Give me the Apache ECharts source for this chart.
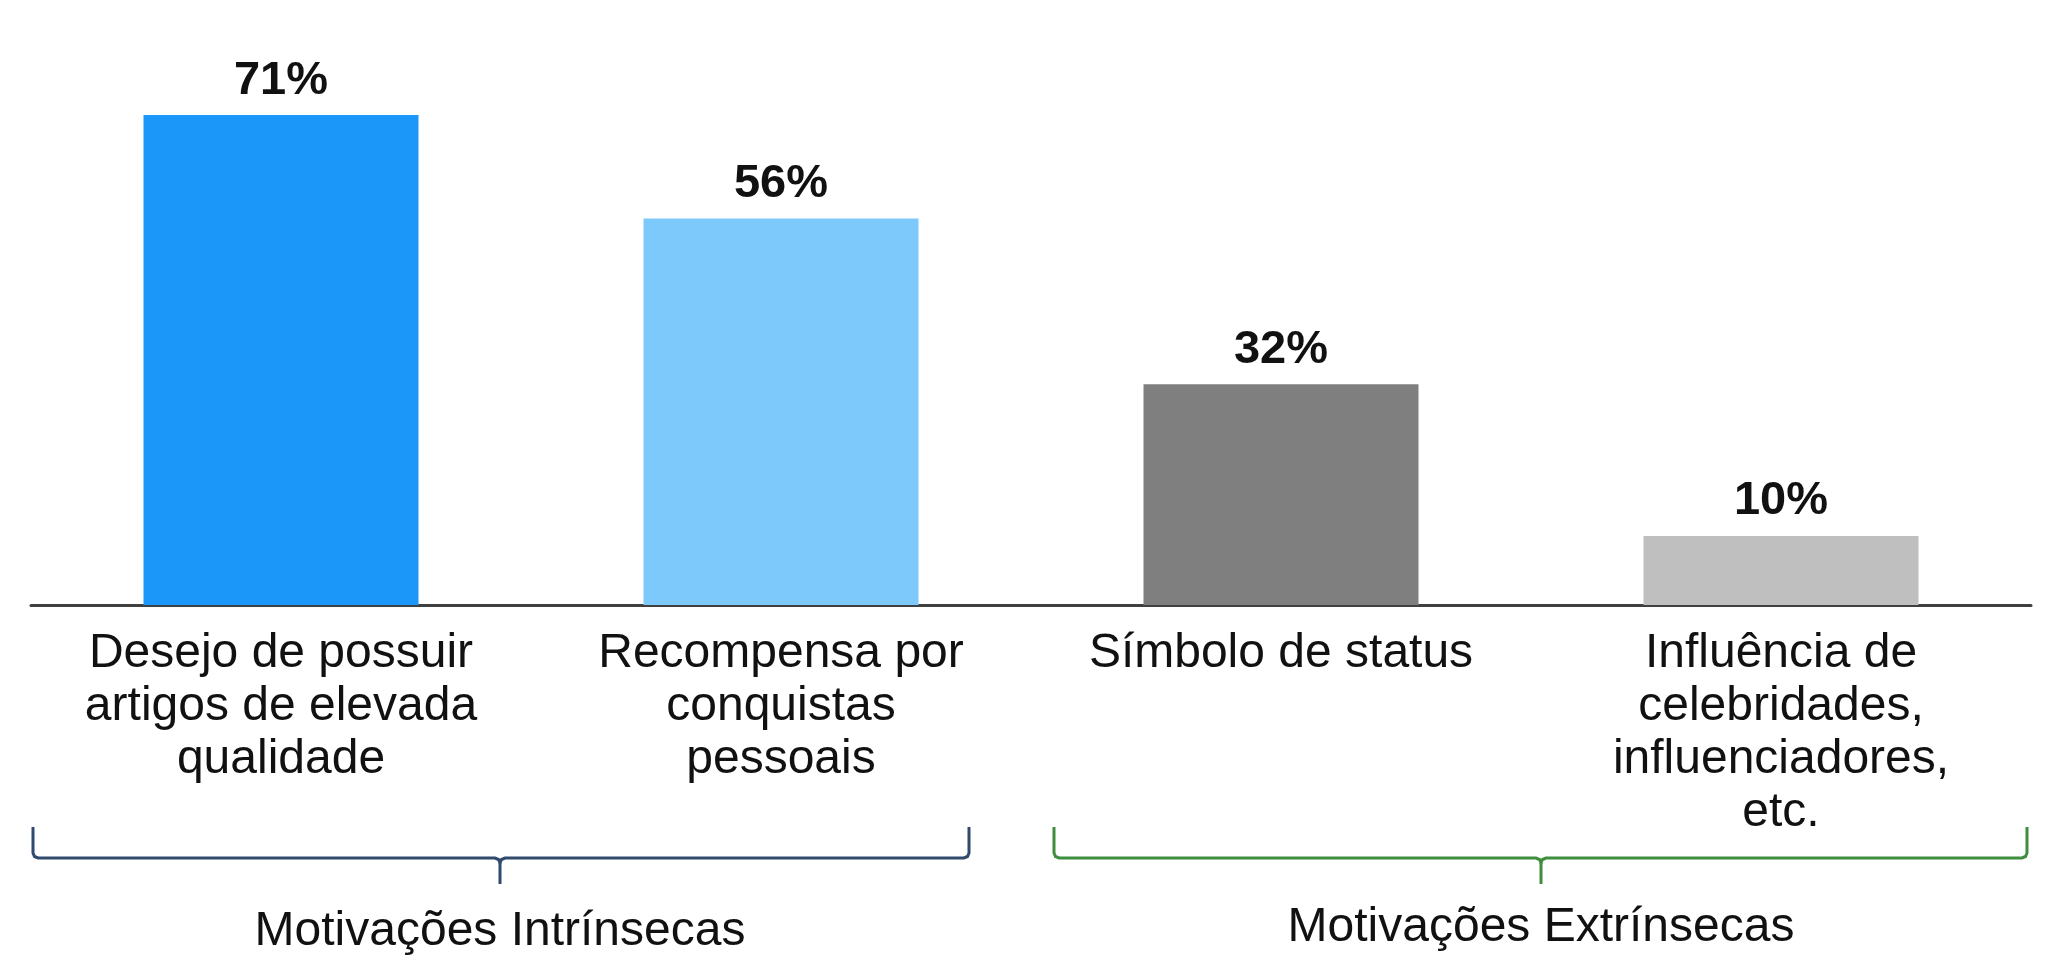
<!DOCTYPE html>
<html><head><meta charset="utf-8">
<script src="https://cdn.jsdelivr.net/npm/echarts@6/dist/echarts.min.js"></script>
<style>html,body{margin:0;padding:0;background:#fff}#c{width:2048px;height:962px}</style>
</head><body><div id="c"></div>
<script>
const categories = ['Desejo de possuir\nartigos de elevada\nqualidade', 'Recompensa por\nconquistas\npessoais', 'Símbolo de status', 'Influência de\ncelebridades,\ninfluenciadores,\netc.'];
const values = [71, 56, 32, 10];
const barColors = ['#1a97f8', '#7ec9fb', '#7f7f7f', '#bfbfbf'];
const groupNames = ['Motivações Intrínsecas', 'Motivações Extrínsecas'];
const groupSpans = [[-0.496, 0.438, 1.376], [1.546, 2.52, 3.492]];
const groupColors = ['#2f4a6c', '#3f8e3f'];

const FONT = '"Liberation Sans", Arial, sans-serif';
const chart = echarts.init(document.getElementById('c'));
chart.setOption({
  animation: false,
  grid: {left: 31, right: 17, top: 53, bottom: 357},
  xAxis: {
    type: 'category', data: categories,
    axisLine: {lineStyle: {color: '#404040', width: 3}},
    axisTick: {show: false},
    axisLabel: {interval: 0, color: '#111', fontFamily: FONT, fontSize: 48, lineHeight: 53, margin: 22}
  },
  yAxis: {type: 'value', min: 0, max: 80, show: false, splitLine: {show: false}},
  series: [{
    type: 'bar', barCategoryGap: '45%',
    data: values.map((v, i) => ({value: v, itemStyle: {color: barColors[i]}})),
    label: {show: true, position: 'top', formatter: '{c}%', color: '#111', fontFamily: FONT, fontWeight: 'bold', fontSize: 47, distance: 11}
  }]
});

function xAt(f) {
  const i0 = Math.floor(f);
  const a = chart.convertToPixel({xAxisIndex: 0}, i0);
  const b = chart.convertToPixel({xAxisIndex: 0}, i0 + 1);
  return a + (b - a) * (f - i0);
}
const yTop = 827, yLine = 858, yTip = 884, r = 5;
const graphics = [];
groupSpans.forEach((s, g) => {
  const x0 = xAt(s[0]), xc = xAt(s[1]), x1 = xAt(s[2]);
  const st = {fill: null, stroke: groupColors[g], lineWidth: 3};
  graphics.push({type: 'polyline', shape: {points: [[x0, yTop], [x0, yLine - r], [x0 + 1.5, yLine - 1.5], [x0 + r, yLine], [xc - r, yLine], [xc - 1.5, yLine + 1.5], [xc, yLine + r], [xc + 1.5, yLine + 1.5], [xc + r, yLine], [x1 - r, yLine], [x1 - 1.5, yLine - 1.5], [x1, yLine - r], [x1, yTop]]}, style: st});
  graphics.push({type: 'line', shape: {x1: xc, y1: yLine + r, x2: xc, y2: yTip}, style: st});
  graphics.push({type: 'text', x: xc, y: g === 0 ? 932 : 928, style: {text: groupNames[g], fill: '#111', font: '48px ' + FONT, textAlign: 'center', textVerticalAlign: 'middle'}});
});
chart.setOption({graphic: graphics});
</script></body></html>
